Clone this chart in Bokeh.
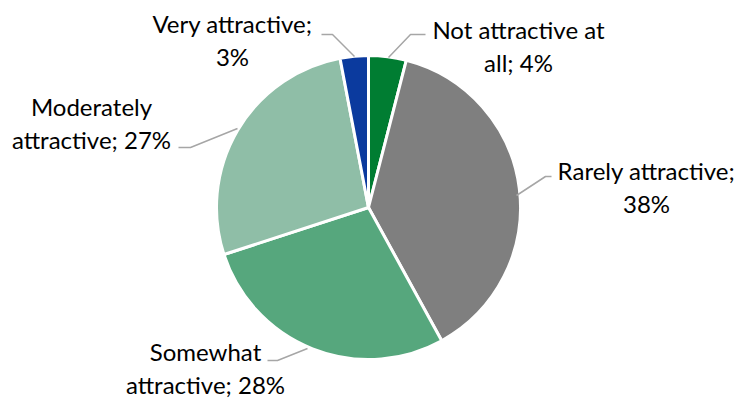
import numpy as np
from bokeh.plotting import figure
from bokeh.models import Range1d
from bokeh.core.properties import value
from bokeh.embed import file_html
from bokeh.resources import INLINE

categories = ["Not attractive at all", "Rarely attractive", "Somewhat attractive",
              "Moderately attractive", "Very attractive"]
values = [4, 38, 28, 27, 3]
colors = ["#007D32", "#7F7F7F", "#56A77D", "#8FBEA7", "#0B3A9E"]
label_texts = ["Not attractive at\nall; 4%", "Rarely attractive;\n38%",
               "Somewhat\nattractive; 28%", "Moderately\nattractive; 27%",
               "Very attractive;\n3%"]

W, H = 740, 399
cx, cy, r = 368, H - 207, 152

p = figure(width=W, height=H, output_backend="svg", toolbar_location=None,
           x_range=Range1d(0, W), y_range=Range1d(0, H), min_border=0)
p.axis.visible = False
p.grid.visible = False
p.outline_line_color = None
p.background_fill_color = "white"

vals = np.array(values, dtype=float)
frac = vals / vals.sum()
cum = np.concatenate([[0], np.cumsum(frac)])
start = np.pi / 2 - cum[:-1] * 2 * np.pi
end = np.pi / 2 - cum[1:] * 2 * np.pi

p.wedge(x=cx, y=cy, radius=r, start_angle=start, end_angle=end, direction="clock",
        fill_color=colors, line_color="white", line_width=3)

# label block centers (pixel coords from top)
lab_x = [518, 646, 205, 91, 232]
lab_y = [45, 186.5, 367.5, 122.5, 39]
spacing = 33
tx, ty, tt = [], [], []
for x0, y0, t in zip(lab_x, lab_y, label_texts):
    lines = t.split("\n")
    n = len(lines)
    for i, ln in enumerate(lines):
        tx.append(x0)
        ty.append(H - (y0 + (i - (n - 1) / 2) * spacing))
        tt.append(ln)
p.text(x=tx, y=ty, text=tt, text_align="center",
       text_baseline="middle", text_font=value("Lato"), text_font_size="24px",
       text_color="#000000")

# leader lines (pixel coords from top)
lx = [[388, 410, 425], [516, 545, 551], [307, 277, 267], [237, 190, 178], [354, 332, 321]]
ly = [[57, 34, 34], [195, 176, 176], [348, 360, 360], [128, 147, 147], [56, 34, 34]]
p.multi_line(xs=lx, ys=[[H - v for v in row] for row in ly], line_color="#A6A6A6", line_width=1.5)

open("out.html", "w").write(file_html(p, INLINE))
